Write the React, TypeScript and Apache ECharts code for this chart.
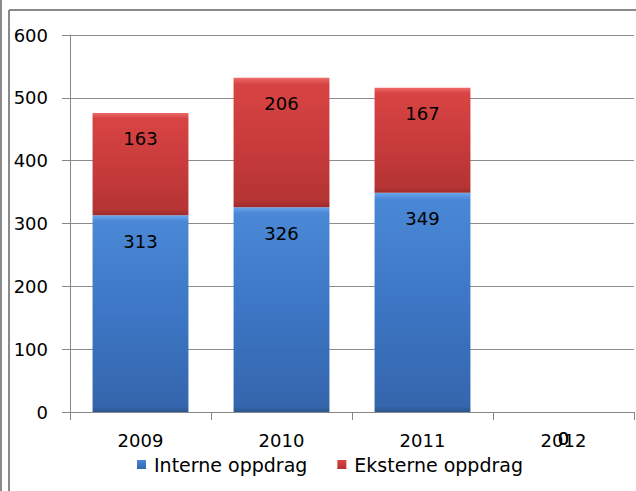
import React, { useEffect, useRef } from "react";
import * as echarts from "echarts";

const categories = ["2009", "2010", "2011", "2012"];
const interne = [313, 326, 349, 0];
const eksterne = [163, 206, 167, 0];
const yTicks = { min: 0, max: 600, interval: 100 };

const FONT = "DejaVu Sans";

export default function App() {
  const ref = useRef<HTMLDivElement>(null);
  useEffect(() => {
    if (!ref.current) return;
    const chart = echarts.init(ref.current, null, { renderer: "svg" });
    const blue = new echarts.graphic.LinearGradient(0, 0, 0, 1, [
      { offset: 0, color: "#6aa6ec" },
      { offset: 0.03, color: "#4a88d6" },
      { offset: 0.5, color: "#3c76c4" },
      { offset: 0.97, color: "#3566ad" },
      { offset: 1, color: "#2c568f" },
    ]);
    const red = new echarts.graphic.LinearGradient(0, 0, 0, 1, [
      { offset: 0, color: "#ee6a6a" },
      { offset: 0.05, color: "#d84444" },
      { offset: 0.5, color: "#c93b3b" },
      { offset: 0.95, color: "#b53434" },
      { offset: 1, color: "#9c2b2b" },
    ]);
    const labelStyle = {
      show: true,
      position: "insideTop" as const,
      distance: 17,
      color: "#000",
      fontFamily: FONT,
      fontSize: 18,
    };
    chart.setOption({
      animation: false,
      textStyle: { fontFamily: FONT },
      grid: { left: 70, right: 2, top: 35, bottom: 79, containLabel: false },
      graphic: [
        { type: "line", shape: { x1: 1, y1: 0, x2: 1, y2: 491 }, style: { stroke: "#8a8a8a", lineWidth: 2 } },
        { type: "line", shape: { x1: 9, y1: 10, x2: 9, y2: 491 }, style: { stroke: "#8a8a8a", lineWidth: 2 } },
        { type: "line", shape: { x1: 9, y1: 10, x2: 636, y2: 10 }, style: { stroke: "#8a8a8a", lineWidth: 2 } },
      ],
      legend: {
        bottom: 12,
        left: 132,
        itemWidth: 9,
        itemHeight: 9,
        itemGap: 30,
        icon: "rect",
        textStyle: { fontFamily: FONT, fontSize: 19, color: "#000", padding: [0, 0, 0, 3] },
        data: ["Interne oppdrag", "Eksterne oppdrag"],
      },
      xAxis: {
        type: "category",
        data: categories,
        axisLine: { lineStyle: { color: "#888", width: 1 } },
        axisTick: { show: true, length: 8, lineStyle: { color: "#888" } },
        axisLabel: { color: "#000", fontFamily: FONT, fontSize: 18, margin: 19 },
      },
      yAxis: {
        type: "value",
        min: yTicks.min,
        max: yTicks.max,
        interval: yTicks.interval,
        axisLine: { show: true, lineStyle: { color: "#888", width: 1 } },
        axisTick: { show: true, length: 8, lineStyle: { color: "#888" } },
        axisLabel: { color: "#000", fontFamily: FONT, fontSize: 18, margin: 22 },
        splitLine: { lineStyle: { color: "#8c8c8c", width: 1 } },
      },
      series: [
        {
          name: "Interne oppdrag",
          type: "bar",
          stack: "total",
          barWidth: "68%",
          data: interne,
          itemStyle: { color: blue },
          label: labelStyle,
        },
        {
          name: "Eksterne oppdrag",
          type: "bar",
          stack: "total",
          barWidth: "68%",
          data: eksterne,
          itemStyle: { color: red },
          label: labelStyle,
        },
      ],
    });
    return () => chart.dispose();
  }, []);
  return <div ref={ref} style={{ width: 636, height: 491, position: "absolute", left: 0, top: 0 }} />;
}
